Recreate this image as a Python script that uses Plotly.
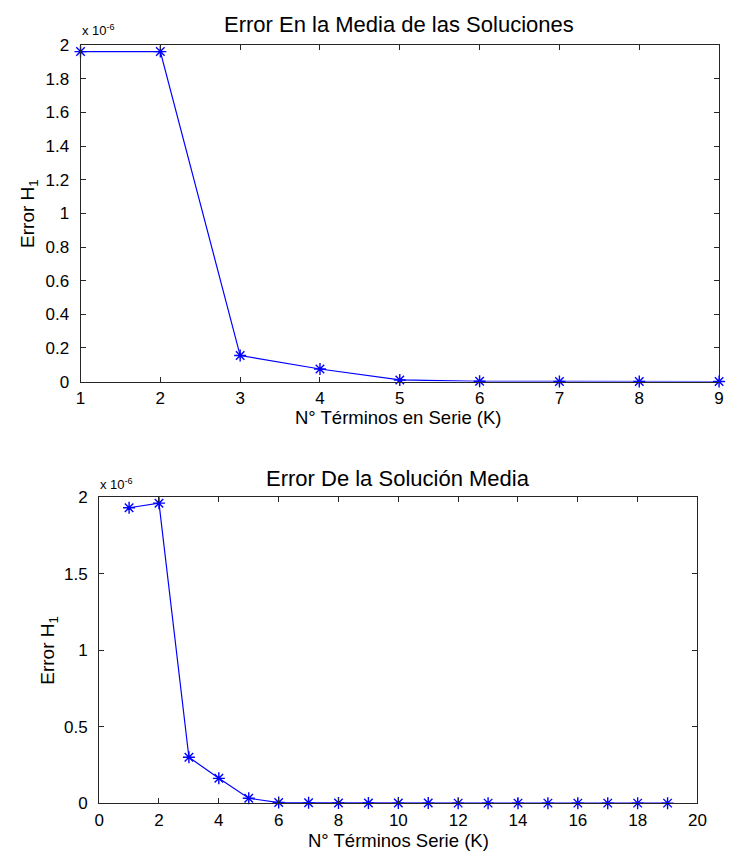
import plotly.graph_objects as go

# Data
k_top = [1, 2, 3, 4, 5, 6, 7, 8, 9]
err_top = [1.962e-6, 1.962e-6, 0.155e-6, 0.075e-6, 0.010e-6, 0.002e-6, 0.001e-6, 0.0005e-6, 0.0003e-6]

k_bot = list(range(1, 20))
err_bot = [1.93e-6, 1.96e-6, 0.30e-6, 0.162e-6, 0.032e-6, 0.004e-6, 0.002e-6, 0.001e-6,
           0.0005e-6, 0.0003e-6, 0.0002e-6, 0.0001e-6, 0.0001e-6, 0.0001e-6, 0.0001e-6,
           0.0001e-6, 0.0001e-6, 0.0001e-6, 0.0001e-6]

top_ytick_vals = [0, 0.2e-6, 0.4e-6, 0.6e-6, 0.8e-6, 1.0e-6, 1.2e-6, 1.4e-6, 1.6e-6, 1.8e-6, 2.0e-6]
top_ytick_text = ["0", "0.2", "0.4", "0.6", "0.8", "1", "1.2", "1.4", "1.6", "1.8", "2"]
bot_ytick_vals = [0, 0.5e-6, 1.0e-6, 1.5e-6, 2.0e-6]
bot_ytick_text = ["0", "0.5", "1", "1.5", "2"]
top_xticks = list(range(1, 10))
bot_xticks = list(range(0, 21, 2))

W, H = 732, 864
FONT = "Liberation Sans, Arial, Helvetica, sans-serif"
AX = "#262626"
BLUE = "#0000ff"

fig = go.Figure()
marker = dict(symbol="asterisk-open", size=10, line=dict(color=BLUE, width=1.4), color=BLUE)
fig.add_trace(go.Scatter(x=k_top, y=err_top, mode="lines+markers", line=dict(color=BLUE, width=1.2),
                         marker=marker, xaxis="x", yaxis="y", showlegend=False, cliponaxis=False))
fig.add_trace(go.Scatter(x=k_bot, y=err_bot, mode="lines+markers", line=dict(color=BLUE, width=1.2),
                         marker=marker, xaxis="x2", yaxis="y2", showlegend=False, cliponaxis=False))

def px_x(p):
    return p / W

def px_y(p):
    return 1 - p / H

ax_common = dict(showline=True, linecolor=AX, linewidth=1, mirror="allticks", ticks="inside",
                 ticklen=5, tickcolor=AX, showgrid=False, zeroline=False,
                 tickfont=dict(family=FONT, size=17, color="#000"))

fig.update_layout(
    xaxis=dict(domain=[px_x(77), px_x(728)], range=[1, 9], tickvals=top_xticks, anchor="y",
               ticklabelstandoff=1, **ax_common),
    yaxis=dict(domain=[px_y(381), px_y(37)], range=[0, 2e-6], tickvals=top_ytick_vals,
               ticktext=top_ytick_text, anchor="x", ticklabelstandoff=7, **ax_common),
    xaxis2=dict(domain=[px_x(96), px_x(706)], range=[0, 20], tickvals=bot_xticks, anchor="y2",
                ticklabelstandoff=1, **ax_common),
    yaxis2=dict(domain=[px_y(812), px_y(499)], range=[0, 2e-6], tickvals=bot_ytick_vals,
                ticktext=bot_ytick_text, anchor="x2", ticklabelstandoff=7, **ax_common),
)

def ann(text, x, y, size=13, angle=0, xanchor="center", yanchor="middle"):
    fig.add_annotation(text=text, x=px_x(x), y=px_y(y), xref="paper", yref="paper",
                       showarrow=False, textangle=angle, xanchor=xanchor, yanchor=yanchor,
                       font=dict(family=FONT, size=size, color="#000"))

ann("Error En la Media de las Soluciones", 402, 16, size=22)
ann("Error De la Solución Media", 401, 480, size=22)
ann("N° Términos en Serie (K)", 401, 418, size=18.5)
ann("N° Términos Serie (K)", 401, 850, size=18.5)
ann("Error H<sub>1</sub>", 25, 209, size=19, angle=-90)
ann("Error H<sub>1</sub>", 44, 656, size=19, angle=-90)
ann("x 10<sup>-6</sup>", 76, 21, size=13, xanchor="left")
ann("x 10<sup>-6</sup>", 95, 486, size=13, xanchor="left")

fig.update_layout(width=W, height=H, margin=dict(l=0, r=0, t=0, b=0),
                  paper_bgcolor="white", plot_bgcolor="white", showlegend=False)

fig.write_html("out.html")
